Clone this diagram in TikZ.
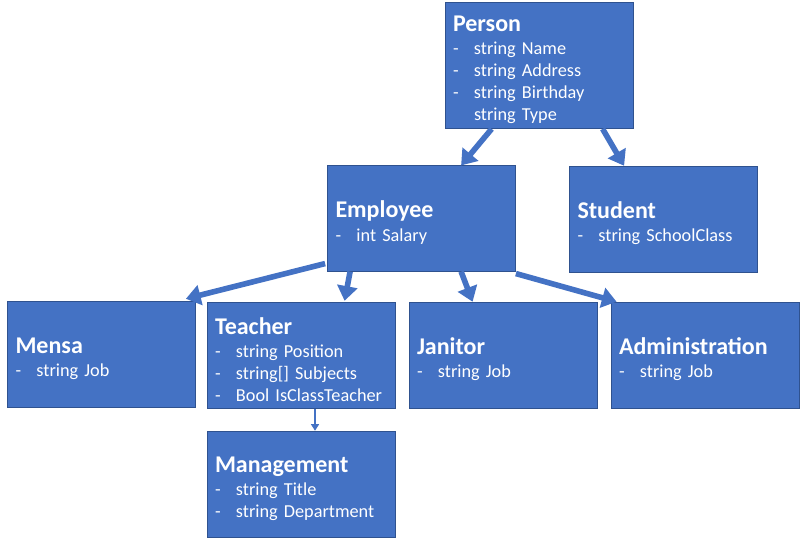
\documentclass[tikz,border=0pt]{standalone}
\usepackage{fontspec}
\setmainfont{Carlito}
\usetikzlibrary{calc,arrows.meta}
\definecolor{officeblue}{HTML}{4472C4}
\definecolor{officeedge}{HTML}{2F528F}
\newcommand{\classname}[1]{\rule{0pt}{18.5pt}{\fontsize{18}{16.5}\selectfont\bfseries #1}\\[1pt]}
\newcommand{\attr}[1]{\makebox[15.75pt][l]{-}#1}
\newcommand{\noattr}[1]{\makebox[15.75pt][l]{}#1}
\tikzstyle{classbox} = [rectangle, draw=officeedge, line width=0.6pt, fill=officeblue, text=white, text width=129pt, inner xsep=6pt, align=left, minimum height=80pt, font=\fontsize{13.7}{16.5}\selectfont]
\tikzstyle{inherit} = [officeblue, line width=4.2pt, -{Triangle[length=11pt,width=15pt]}]
\tikzstyle{thinarrow} = [officeblue, line width=1.2pt, -{Triangle[length=5pt,width=6pt]}]
\begin{document}
\begin{tikzpicture}[x=0.75pt, y=-0.75pt]
  \useasboundingbox (0,0) rectangle (800,539);
  \node (person)[classbox, minimum height=94pt] at (539,65.5)
    {\classname{Person}\attr{string Name}\\\attr{string Address}\\\attr{string Birthday}\\\noattr{string Type}};
  \node (employee)[classbox, minimum height=79pt] at (421.5,218.5)
    {\classname{Employee}\attr{int Salary}};
  \node (student)[classbox] at (663.5,219.5)
    {\classname{Student}\attr{string SchoolClass}};
  \node (mensa)[classbox] at (101.5,354.5)
    {\classname{Mensa}\attr{string Job}};
  \node (teacher)[classbox] at (301,355.5)
    {\classname{Teacher}\attr{string Position}\\\attr{string[] Subjects}\\\attr{Bool IsClassTeacher}};
  \node (janitor)[classbox] at (503,355.5)
    {\classname{Janitor}\attr{string Job}};
  \node (admin)[classbox] at (705,355.5)
    {\classname{Administration}\attr{string Job}};
  \node (management)[classbox] at (301,484.5)
    {\classname{Management}\attr{string Title}\\\attr{string Department}};
  % inheritance arrows
  \draw [inherit] ($(person.south west)+(47,0)$) -- ($(employee.north west)+(134,0)$);
  \draw [inherit] ($(person.south west)+(158,0)$) -- ($(student.north west)+(55,0)$);
  \draw [inherit] ($(employee.south west)+(-2,-8)$) -- ($(mensa.north east)+(-10,-2)$);
  \draw [inherit] ($(employee.south west)+(23,0)$) -- ($(teacher.north west)+(138,-1)$);
  \draw [inherit] ($(employee.south west)+(134,0)$) -- ($(janitor.north west)+(64,0)$);
  \draw [inherit] ($(employee.south east)+(0,2)$) -- ($(admin.north west)+(6,0)$);
  \draw [thinarrow] ($(teacher.south)+(14,0)$) -- ($(management.north)+(14,0)$);
\end{tikzpicture}
\end{document}
